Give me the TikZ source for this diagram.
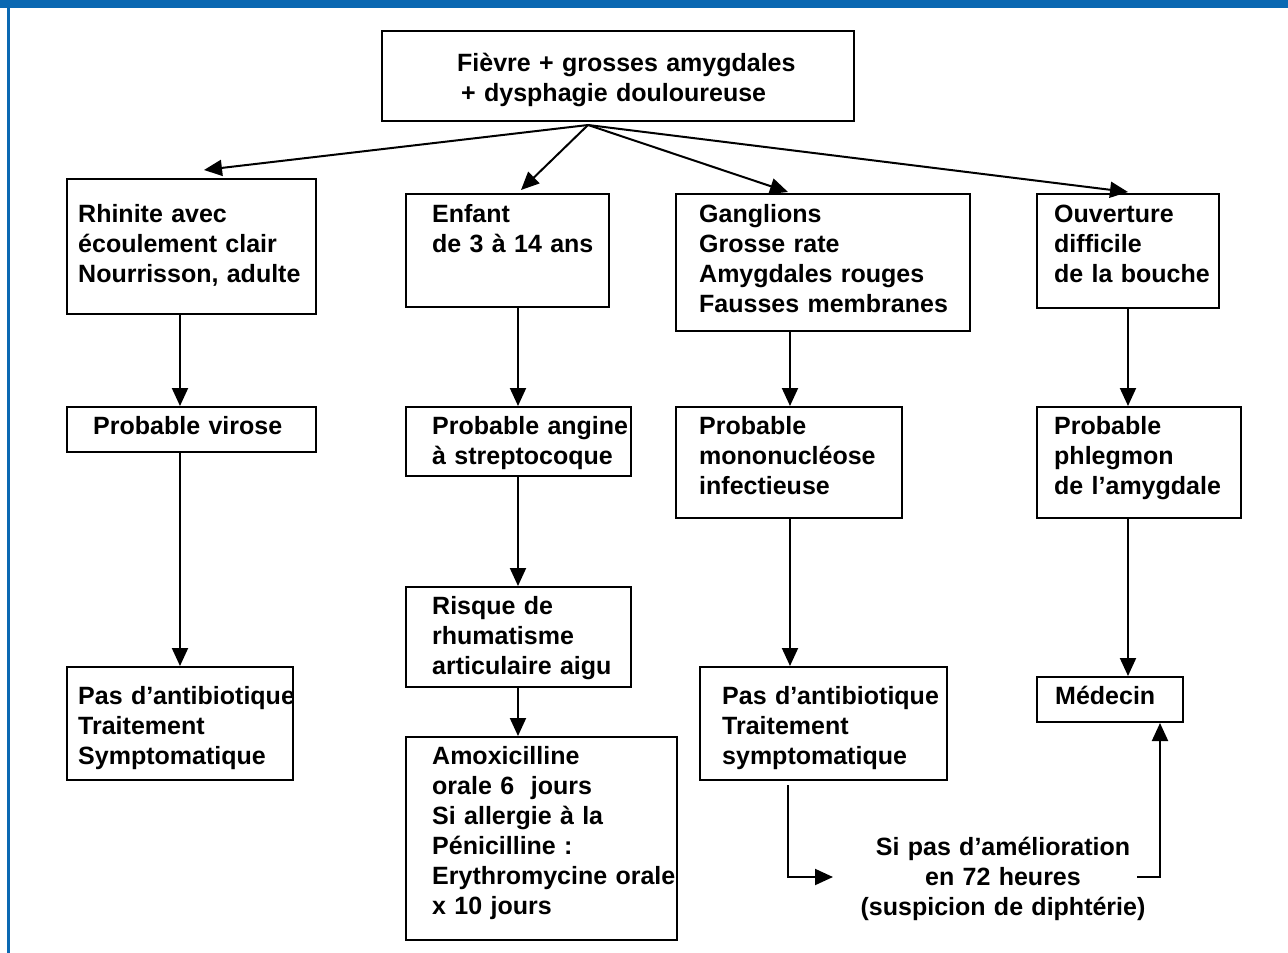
\documentclass[tikz,border=0pt]{standalone}
\usepackage{fontspec}
\setmainfont{Liberation Sans}
\usetikzlibrary{arrows.meta}
\definecolor{frameblue}{RGB}{10,104,178}
\tikzset{
  box/.style={draw, line width=2pt, inner sep=0pt, anchor=north west, rectangle},
  txt/.style={anchor=base west, inner sep=0pt, align=left, text width=420pt,
    font=\bfseries\fontsize{25}{30}\selectfont},
  ctxt/.style={anchor=base, inner sep=0pt, align=center, text width=420pt,
    font=\bfseries\fontsize{25}{30}\selectfont},
  arr/.style={line width=2pt, -{Triangle[length=18pt,width=16pt]}}
}
\begin{document}
\begin{tikzpicture}[x=1pt,y=-1pt]
\useasboundingbox (0,0) rectangle (1288,953);
\fill[white] (0,0) rectangle (1288,953);
\fill[frameblue] (0,0) rectangle (1288,7.5);
\fill[frameblue] (7,0) rectangle (10,953);

% boxes
\node[box, minimum width=472pt, minimum height=90pt] (top) at (381,30) {};
\node[box, minimum width=249pt, minimum height=135pt] (b1) at (66,178) {};
\node[box, minimum width=203pt, minimum height=113pt] (b2) at (405,193) {};
\node[box, minimum width=294pt, minimum height=137pt] (b3) at (675,193) {};
\node[box, minimum width=182pt, minimum height=114pt] (b4) at (1036,193) {};
\node[box, minimum width=249pt, minimum height=45pt] (p1) at (66,406) {};
\node[box, minimum width=225pt, minimum height=69pt] (p2) at (405,406) {};
\node[box, minimum width=226pt, minimum height=111pt] (p3) at (675,406) {};
\node[box, minimum width=204pt, minimum height=111pt] (p4) at (1036,406) {};
\node[box, minimum width=226pt, minimum height=113pt] (t1) at (66,666) {};
\node[box, minimum width=225pt, minimum height=100pt] (r2) at (405,586) {};
\node[box, minimum width=247pt, minimum height=113pt] (t3) at (699,666) {};
\node[box, minimum width=146pt, minimum height=45pt] (m4) at (1036,676) {};
\node[box, minimum width=271pt, minimum height=203pt] (a2) at (405,736) {};

% texts
\node[txt] (topt) at (457,71) {Fièvre + grosses amygdales\\\hspace*{4pt}+ dysphagie douloureuse};
\node[txt] (b1t) at (78,222) {Rhinite avec\\écoulement clair\\Nourrisson, adulte};
\node[txt] (b2t) at (432,222) {Enfant\\de 3 à 14 ans};
\node[txt] (b3t) at (699,222) {Ganglions\\Grosse rate\\Amygdales rouges\\Fausses membranes};
\node[txt] (b4t) at (1054,222) {Ouverture\\difficile\\de la bouche};
\node[txt] (p1t) at (93,434) {Probable virose};
\node[txt] (p2t) at (432,434) {Probable angine\\à streptocoque};
\node[txt] (p3t) at (699,434) {Probable\\mononucléose\\infectieuse};
\node[txt] (p4t) at (1054,434) {Probable\\phlegmon\\de l’amygdale};
\node[txt] (t1t) at (78,704) {Pas d’antibiotique\\Traitement\\Symptomatique};
\node[txt] (r2t) at (432,614) {Risque de\\rhumatisme\\articulaire aigu};
\node[txt] (t3t) at (722,704) {Pas d’antibiotique\\Traitement\\symptomatique};
\node[txt] (m4t) at (1055,704) {Médecin};
\node[txt] (a2t) at (432,764) {Amoxicilline\\orale 6~ jours\\Si allergie à la\\Pénicilline :\\Erythromycine orale\\x 10 jours};
\node[ctxt] (si) at (1003,855) {Si pas d’amélioration\\en 72 heures\\(suspicion de diphtérie)};

% helper coordinates
\coordinate (x1) at (180,0);
\coordinate (x2) at (518,0);
\coordinate (x3) at (790,0);
\coordinate (x3b) at (788,0);
\coordinate (x4) at (1128,0);
\coordinate (x5) at (1160,0);
\coordinate (siin) at (833,877);
\coordinate (siout) at (1137,877);

% fan-out arrows
\draw[arr] ([xshift=-30pt,yshift=-3pt]top.south) -- ([xshift=12.5pt,yshift=8pt]b1.north);
\draw[arr] ([xshift=-30pt,yshift=-3pt]top.south) -- ([xshift=13.5pt,yshift=3pt]b2.north);
\draw[arr] ([xshift=-30pt,yshift=-3pt]top.south) -- ([xshift=-35pt,yshift=1pt]b3.north);
\draw[arr] ([xshift=-30pt,yshift=-3pt]top.south) -- ([yshift=1pt]b4.north);

% vertical arrows
\draw[arr] (b1.south -| x1) -- (p1.north -| x1);
\draw[arr] (p1.south -| x1) -- (t1.north -| x1);
\draw[arr] (b2.south -| x2) -- (p2.north -| x2);
\draw[arr] (p2.south -| x2) -- (r2.north -| x2);
\draw[arr] (r2.south -| x2) -- (a2.north -| x2);
\draw[arr] (b3.south -| x3) -- (p3.north -| x3);
\draw[arr] (p3.south -| x3) -- (t3.north -| x3);
\draw[arr] (b4.south -| x4) -- (p4.north -| x4);
\draw[arr] (p4.south -| x4) -- (m4.north -| x4);

% elbow arrows
\draw[arr] ([yshift=-4pt]t3.south -| x3b) |- (siin);
\draw[arr] (siout) -| (m4.south -| x5);
\end{tikzpicture}
\end{document}
